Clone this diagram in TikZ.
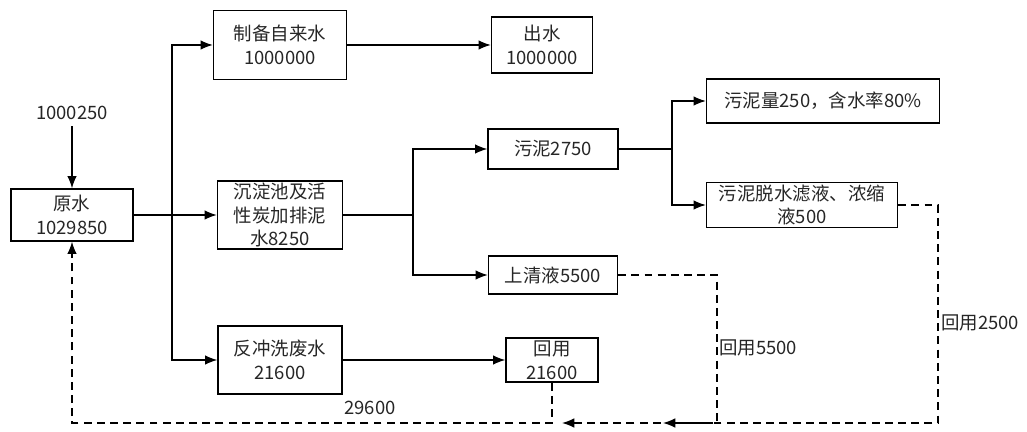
\documentclass[tikz,border=0pt]{standalone}
\usepackage{fontspec}
\setmainfont{Noto Sans CJK SC}
\usetikzlibrary{arrows.meta,positioning,calc}

\begin{document}
\begin{tikzpicture}[x=0.02cm, y=-0.02cm,
  every node/.style={font=\fontsize{10.5}{13.4}\selectfont, text=black!85},
  box/.style={draw, line width=0.8pt, align=center, inner sep=1pt},
  line/.style={line width=0.8pt},
  flow/.style={line, -{Latex[length=7pt,width=5.5pt]}},
  back/.style={flow, dashed, dash pattern=on 4.5pt off 3pt}]
  \useasboundingbox (0,0) rectangle (1027,432);

  % boxes
  \node[box, minimum width=2.44cm, minimum height=1.04cm] (yuanshui) at (72,215) {原水\\1029850};
  \node[box, minimum width=2.66cm, minimum height=1.38cm] (zhibei) at (280,45) {制备自来水\\1000000};
  \node[box, minimum width=2.02cm, minimum height=1.12cm] (chushui) at (542,45) {出水\\1000000};
  \node[box, minimum width=2.5cm, minimum height=1.36cm] (chendian) at (280,215) {沉淀池及活\\性炭加排泥\\水8250};
  \node[box, minimum width=2.6cm, minimum height=0.8cm] (wuni) at (553,149) {污泥2750};
  \node[box, minimum width=2.58cm, minimum height=0.76cm] (shangqing) at (553,275) {上清液5500};
  \node[box, minimum width=4.66cm, minimum height=0.88cm] (niliang) at (823,101) {污泥量250，含水率80\%};
  \node[box, minimum width=3.82cm, minimum height=0.9cm] (tuoshui) at (802,205) {污泥脱水滤液、浓缩\\液500};
  \node[box, minimum width=2.48cm, minimum height=1.36cm] (fanchong) at (280,360) {反冲洗废水\\21600};
  \node[box, minimum width=1.84cm, minimum height=0.88cm] (huiyong) at (552,360) {回用\\21600};

  % inflow
  \node (src) at (72,113) {1000250};
  \draw[flow] (src) -- (yuanshui);

  % junctions
  \coordinate (t) at (172,215);
  \coordinate (b) at (413,215);
  \coordinate (c) at (672,149);
  \draw[flow] (yuanshui) -- (chendian);
  \draw[flow] (t) |- (zhibei);
  \draw[flow] (t) |- (fanchong);
  \draw[flow] (zhibei) -- (chushui);
  \draw[line] (chendian) -- (b);
  \draw[flow] (b) |- (wuni);
  \draw[flow] (b) |- (shangqing);
  \draw[line] (wuni) -- (c);
  \draw[flow] (c) |- (niliang);
  \draw[flow] (c) |- (tuoshui);
  \draw[flow] (fanchong) -- (huiyong);

  % return lines
  \coordinate (r2) at (938,423);
  \coordinate (m1) at (717,423);
  \coordinate (a1) at (663,423);
  \coordinate (a2) at (562,423);
  \coordinate (m2) at (552,423);
  \coordinate (l) at (72,423);
  \draw[back] (tuoshui) -| (r2) -- (a1);
  \draw[back] (shangqing) -| (m1) -- (a2);
  \draw[back] (huiyong) -- (m2) -- (l) -- (yuanshui);

  \node (sum) at (370,408) {29600};
  \node[anchor=west, inner sep=1pt] (h5500) at (717,348) {回用5500};
  \node[anchor=west, inner sep=1pt] (h2500) at (939,323) {回用2500};
\end{tikzpicture}
\end{document}
